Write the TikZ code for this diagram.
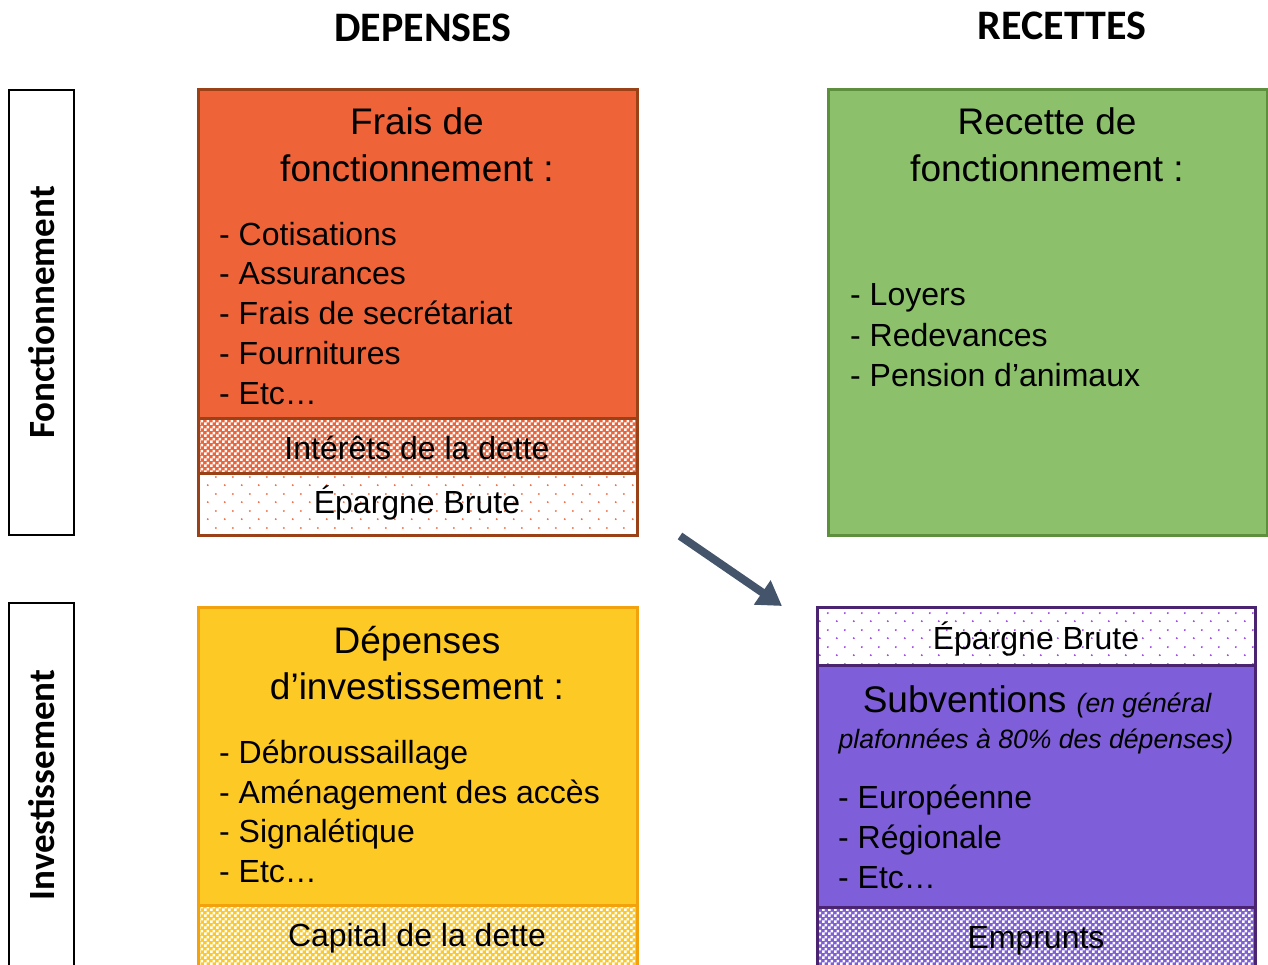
\documentclass[tikz,border=0pt]{standalone}
\usepackage{fontspec}
\setmainfont{Liberation Sans}
\newfontfamily\hdrfont{Carlito}
\usetikzlibrary{patterns.meta,arrows.meta}

\pgfdeclarepattern{name=fdots, type=uncolored,
  bottom left={\pgfpoint{0pt}{0pt}}, top right={\pgfpoint{17pt}{17pt}},
  tile size={\pgfpoint{17pt}{17pt}},
  code={\pgfpathcircle{\pgfpoint{4pt}{4pt}}{1.1pt}\pgfpathcircle{\pgfpoint{12.5pt}{12.5pt}}{1.1pt}\pgfusepath{fill}}}
\pgfdeclarepattern{name=checks, type=uncolored,
  bottom left={\pgfpoint{0pt}{0pt}}, top right={\pgfpoint{6pt}{6pt}},
  tile size={\pgfpoint{6pt}{6pt}},
  code={\pgfpathrectangle{\pgfpoint{0pt}{0pt}}{\pgfpoint{3pt}{3pt}}\pgfpathrectangle{\pgfpoint{3pt}{3pt}}{\pgfpoint{3pt}{3pt}}\pgfusepath{fill}}}

\definecolor{orF}{HTML}{EF6339}
\definecolor{orB}{HTML}{9A4118}
\definecolor{orD}{HTML}{F0643A}
\definecolor{grF}{HTML}{8CC06A}
\definecolor{grB}{HTML}{5E8F3E}
\definecolor{yeF}{HTML}{FDC925}
\definecolor{yeB}{HTML}{F2A20C}
\definecolor{puF}{HTML}{7F5FD9}
\definecolor{puB}{HTML}{4A2470}
\definecolor{puD}{HTML}{9B3FE8}
\definecolor{arr}{HTML}{44546A}

\tikzset{
  box/.style={rectangle, anchor=north west, inner sep=0pt, outer sep=0pt},
  item/.style={inner sep=0pt, anchor=base west, font=\fontsize{32}{38}\selectfont},
  ctr/.style={inner sep=0pt, anchor=base, font=\fontsize{32}{38}\selectfont},
  ttl/.style={inner sep=0pt, anchor=base, font=\fontsize{37}{44}\selectfont},
  hdr/.style={inner sep=0pt, anchor=base, font=\hdrfont\bfseries\fontsize{42}{50}\selectfont},
  side/.style={inner sep=0pt, rotate=90, anchor=center, font=\hdrfont\bfseries\fontsize{37}{44}\selectfont},
  edge/.style={line width=3pt},
}

\begin{document}
\begin{tikzpicture}[x=1pt,y=-1pt]
\useasboundingbox (0,0) rectangle (1268,965);
\clip (0,0) rectangle (1268,965);

% side boxes
\node[box, draw=black, line width=2pt, minimum width=65pt, minimum height=445pt] (sideF) at (9,90) {};
\node[box, draw=black, line width=2pt, minimum width=65pt, minimum height=400pt] (sideI) at (9,603) {};

% depenses fonctionnement
\node[box, fill=orF, minimum width=439pt, minimum height=328pt] (frais) at (198,90) {};
\node[box, fill=orF, minimum width=439pt, minimum height=55pt] (inter) at (198,418) {};
\fill[pattern=checks, pattern color=white] (inter.north west) rectangle (inter.south east);
\node[box, fill=white, minimum width=439pt, minimum height=62pt] (epL) at (198,473) {};
\fill[pattern=fdots, pattern color=orD] (epL.north west) rectangle (epL.south east);
\draw[orB, edge] (frais.north west) rectangle (epL.south east);
\draw[orB, edge] (inter.north west) -- (inter.north east);
\draw[orB, edge] (epL.north west) -- (epL.north east);

% recettes fonctionnement
\node[box, fill=grF, draw=grB, edge, minimum width=439pt, minimum height=445pt] (recette) at (828,90) {};

% depenses investissement
\node[box, fill=yeF, minimum width=439pt, minimum height=298pt] (depinv) at (198,607) {};
\node[box, fill=yeF, minimum width=439pt, minimum height=80pt] (capital) at (198,905) {};
\fill[pattern=checks, pattern color=white] (capital.north west) rectangle (capital.south east);
\draw[yeB, edge] (depinv.north west) rectangle (capital.south east);
\draw[yeB, edge] (capital.north west) -- (capital.north east);

% recettes investissement
\node[box, fill=white, minimum width=438pt, minimum height=58pt] (epR) at (817,607) {};
\fill[pattern=fdots, pattern color=puD] (epR.north west) rectangle (epR.south east);
\node[box, fill=puF, minimum width=438pt, minimum height=242pt] (subv) at (817,665) {};
\node[box, fill=puF, minimum width=438pt, minimum height=80pt] (emprunts) at (817,907) {};
\fill[pattern=checks, pattern color=white] (emprunts.north west) rectangle (emprunts.south east);
\draw[puB, edge] (epR.north west) rectangle (emprunts.south east);
\draw[puB, edge] (subv.north west) -- (subv.north east);
\draw[puB, edge] (emprunts.north west) -- (emprunts.north east);

% arrow
\coordinate (arrS) at (680,536);
\coordinate (arrE) at (782,606);
\draw[arr, line width=8pt, -{Triangle[length=24pt,width=28pt]}] (arrS) -- (arrE);

% headers
\node[hdr] (hD) at (423,42) {DEPENSES};
\node[hdr] (hR) at (1062,40) {RECETTES};
\node[side] (tF) at (sideF.center) {Fonctionnement};
\node[side] (tI) at (42,785) {Investissement};

% frais text
\node[ttl] (f1) at (417,135) {Frais de};
\node[ttl] (f2) at (417,182) {fonctionnement :};
\node[item] (fa) at (219,246) {- Cotisations};
\node[item] (fb) at (219,285) {- Assurances};
\node[item] (fc) at (219,325) {- Frais de secrétariat};
\node[item] (fd) at (219,364) {- Fournitures};
\node[item] (fe) at (219,404) {- Etc…};
\node[ctr] (ti) at (417,459) {Intérêts de la dette};
\node[ctr] (te) at (417,513) {Épargne Brute};

% recette text
\node[ttl] (r1) at (1047,135) {Recette de};
\node[ttl] (r2) at (1047,182) {fonctionnement :};
\node[item] (ra) at (850,306) {- Loyers};
\node[item] (rb) at (850,346) {- Redevances};
\node[item] (rc) at (850,386) {- Pension d’animaux};

% depenses invest text
\node[ttl] (d1) at (417,653) {Dépenses};
\node[ttl] (d2) at (417,699) {d’investissement :};
\node[item] (da) at (219,763) {- Débroussaillage};
\node[item] (db) at (219,803) {- Aménagement des accès};
\node[item] (dc) at (219,842) {- Signalétique};
\node[item] (dd) at (219,882) {- Etc…};
\node[ctr] (tc) at (417,946) {Capital de la dette};

% recettes invest text
\node[ctr] (te2) at (1036,649) {Épargne Brute};
\node[inner sep=0pt, anchor=base] (s1) at (1037,712) {\fontsize{37}{44}\selectfont Subventions \fontsize{26.6}{32}\selectfont\itshape(en général};
\node[inner sep=0pt, anchor=base, font=\fontsize{26.6}{32}\selectfont\itshape] (s2) at (1036,748) {plafonnées à 80\% des dépenses)};
\node[item] (sa) at (838,808) {- Européenne};
\node[item] (sb) at (838,848) {- Régionale};
\node[item] (sc) at (838,888) {- Etc…};
\node[ctr] (tm) at (1036,948) {Emprunts};
\end{tikzpicture}
\end{document}
